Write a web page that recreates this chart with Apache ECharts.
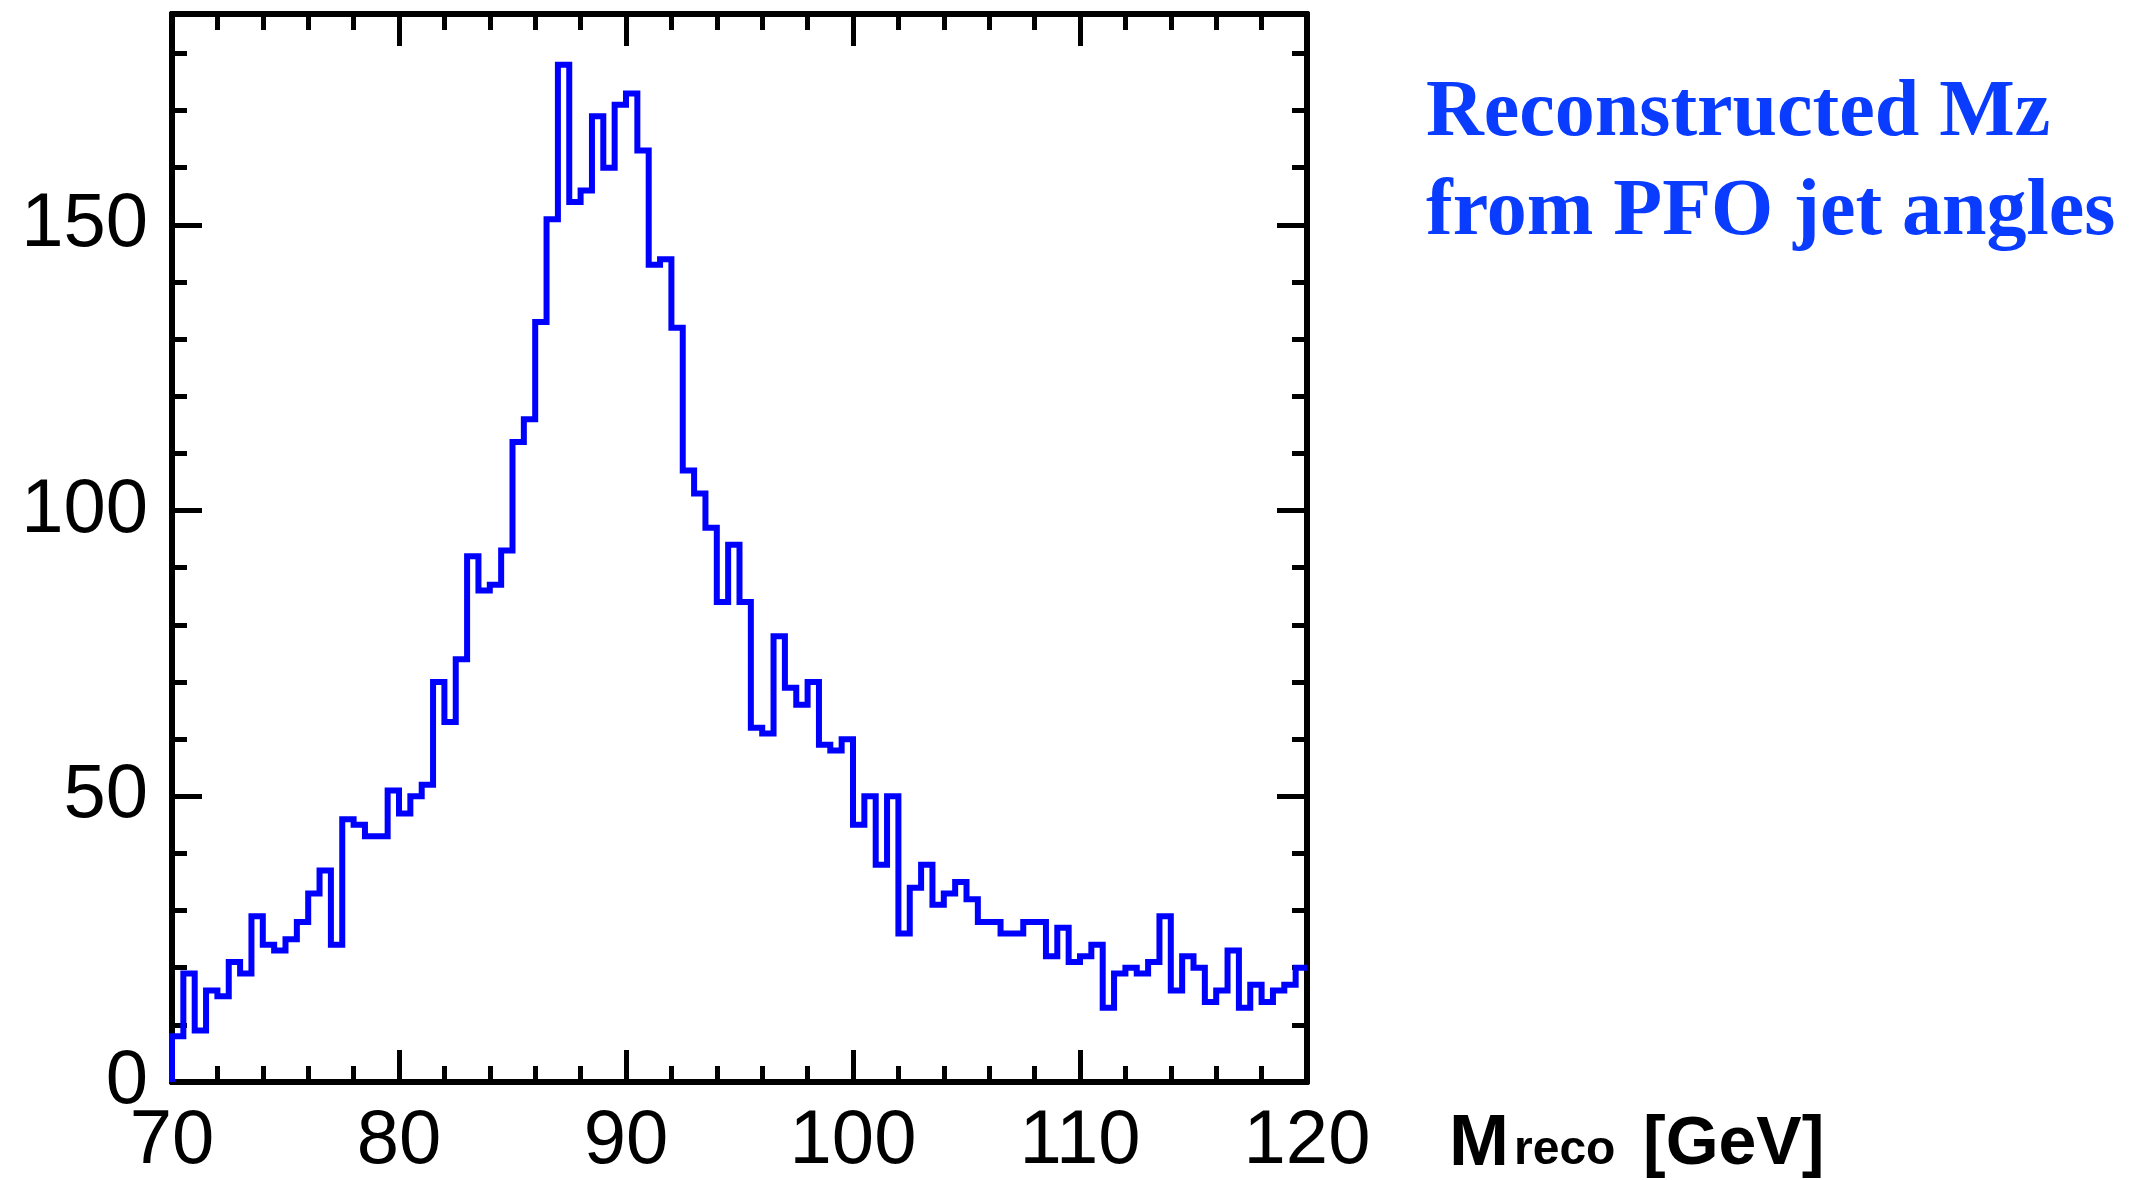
<!DOCTYPE html>
<html>
<head>
<meta charset="utf-8">
<script src="https://cdn.jsdelivr.net/npm/echarts@6/dist/echarts.min.js"></script>
<style>
  html, body { margin: 0; padding: 0; background: #fff; }
  #chart { width: 2130px; height: 1180px; }
</style>
</head>
<body>
<div id="chart"></div>
<script>
// histogram: 100 bins of 0.5 GeV from 70 to 120
var binLow = 70;
var binWidth = 0.5;
var binCounts = [
    8, 19, 9, 16, 15, 21, 19, 29, 24, 23,
    25, 28, 33, 37, 24, 46, 45, 43, 43, 51,
    47, 50, 52, 70, 63, 74, 92, 86, 87, 93,
    112, 116, 133, 151, 178, 154, 156, 169, 160, 171,
    173, 163, 143, 144, 132, 107, 103, 97, 84, 94,
    84, 62, 61, 78, 69, 66, 70, 59, 58, 60,
    45, 50, 38, 50, 26, 34, 38, 31, 33, 35,
    32, 28, 28, 26, 26, 28, 28, 22, 27, 21,
    22, 24, 13, 19, 20, 19, 21, 29, 16, 22,
    20, 14, 16, 23, 13, 17, 14, 16, 17, 20
];
var xRange = [70, 120];
var yMax = 186.9;
var titleLines = ["Reconstructed Mz", "from PFO jet angles"];

var chart = echarts.init(document.getElementById("chart"));

// step points: left edge of every bin, then the right edge of the last one
var stepData = [[binLow, 0]];
binCounts.forEach(function (c, i) {
    stepData.push([binLow + i * binWidth, c]);
});
stepData.push([binLow + binCounts.length * binWidth, binCounts[binCounts.length - 1]]);

var labelFont = "'Liberation Sans', Helvetica, Arial, sans-serif";
var frameLine = { show: true, onZero: false, lineStyle: { color: "#000", width: 6 } };

function xAx(pos, withLabels) {
    return {
        type: "value", position: pos, min: xRange[0], max: xRange[1], interval: 10,
        axisLine: frameLine,
        axisTick: { show: true, inside: true, length: 32, lineStyle: { color: "#000", width: 5 } },
        minorTick: { show: true, splitNumber: 5, length: 16, lineStyle: { color: "#000", width: 5 } },
        splitLine: { show: false },
        axisLabel: { show: withLabels, margin: 22, fontSize: 76, color: "#000", fontFamily: labelFont }
    };
}
function yAx(pos, step, tickLen, withLabels) {
    return {
        type: "value", position: pos, offset: 0, min: 0, max: yMax, interval: step,
        axisLine: frameLine,
        axisTick: { show: true, inside: true, length: tickLen, lineStyle: { color: "#000", width: 5 } },
        splitLine: { show: false },
        axisLabel: { show: withLabels, showMaxLabel: false, margin: 24, fontSize: 76, color: "#000", fontFamily: labelFont }
    };
}

var option = {
    animation: false,
    backgroundColor: "#fff",
    grid: { left: 172, right: 823, top: 14, bottom: 93 },
    xAxis: [xAx("bottom", true), xAx("top", false)],
    yAxis: [
        yAx("left", 50, 30, true),
        yAx("left", 10, 15, false),
        yAx("right", 50, 30, false),
        yAx("right", 10, 15, false)
    ],
    series: [{
        type: "line",
        xAxisIndex: 0,
        yAxisIndex: 0,
        step: "end",
        symbol: "none",
        z: 5,
        lineStyle: { color: "#0000ff", width: 6, join: "miter" },
        data: stepData
    }],
    graphic: [
        { type: "text", style: { text: titleLines[0], x: 1426, y: 114, verticalAlign: "middle",
            font: "bold 80px 'Liberation Serif', 'Times New Roman', serif", fill: "#0a3cff" } },
        { type: "text", style: { text: titleLines[1], x: 1426, y: 213, verticalAlign: "middle",
            font: "bold 80px 'Liberation Serif', 'Times New Roman', serif", fill: "#0a3cff" } },
        // axis title M_reco [GeV]
        { type: "text", style: { text: "M", x: 1449, y: 1181, verticalAlign: "bottom",
            font: "bold 72px " + labelFont, fill: "#000" } },
        { type: "text", style: { text: "reco", x: 1514, y: 1175, verticalAlign: "bottom",
            font: "bold 48px " + labelFont, fill: "#000" } },
        { type: "text", style: { text: "[GeV]", x: 1643, y: 1179, verticalAlign: "bottom",
            font: "bold 68px " + labelFont, fill: "#000" } }
    ]
};
chart.setOption(option);
</script>
</body>
</html>
